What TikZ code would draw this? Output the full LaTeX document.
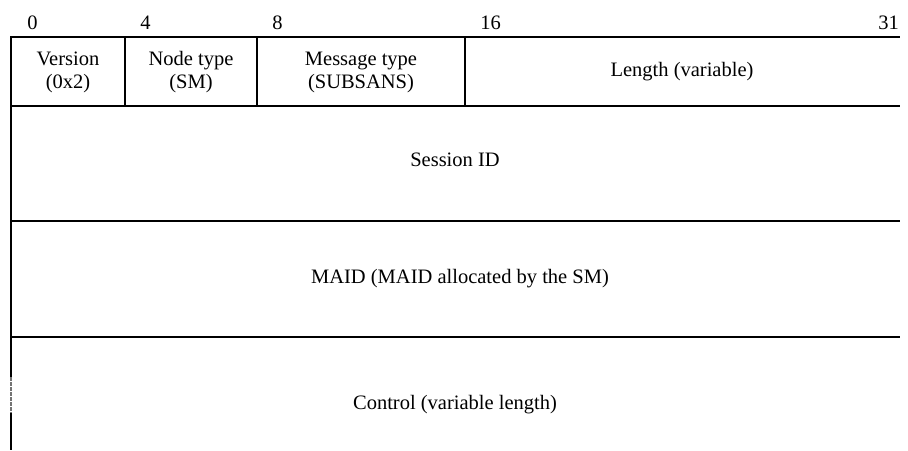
\documentclass[tikz,border=0pt]{standalone}
\usepackage{fontspec}
\setmainfont{Liberation Serif}
\usetikzlibrary{positioning}

\begin{document}
\begin{tikzpicture}[x=1pt, y=-1pt, line width=2.5pt,
    every node/.style={font=\fontsize{20.5}{23}\selectfont, align=center, inner sep=0pt},
    bitno/.style={anchor=base west}, field/.style={}]
    \useasboundingbox (0,0) rectangle (908,450);
    % bit numbers
    \node (b0) [bitno] at (26,29) {0};
    \node (b4) [bitno] at (139,29) {4};
    \node (b8) [bitno] at (271,29) {8};
    \node (b16) [bitno] at (479,29) {16};
    \node (b31) [anchor=base east] at (900,29) {31};
    % frame and row lines
    \draw (11,37) -- (900,37);
    \draw (11,106) -- (900,106);
    \draw (11,221) -- (900,221);
    \draw (11,337) -- (900,337);
    \draw (11,36) -- (11,377);
    \draw[black!55, dash pattern=on 3.5pt off 1.5pt] (11,377) -- (11,413);
    \draw (11,413) -- (11,450);
    \draw (125,37) -- (125,106);
    \draw (257,37) -- (257,106);
    \draw (465,37) -- (465,106);
    % fields
    \node (ver) [field] at (68,72) {Version\\(0x2)};
    \node (ntype) [field] at (191,72) {Node type\\(SM)};
    \node (mtype) [field] at (361,72) {Message type\\(SUBSANS)};
    \node (len) [field] at (682,72) {Length (variable)};
    \node (sid) [field] at (455,160) {Session ID};
    \node (maid) [field] at (460,279) {MAID (MAID allocated by the SM)};
    \node (ctrl) [field] at (455,405) {Control (variable length)};
\end{tikzpicture}
\end{document}
